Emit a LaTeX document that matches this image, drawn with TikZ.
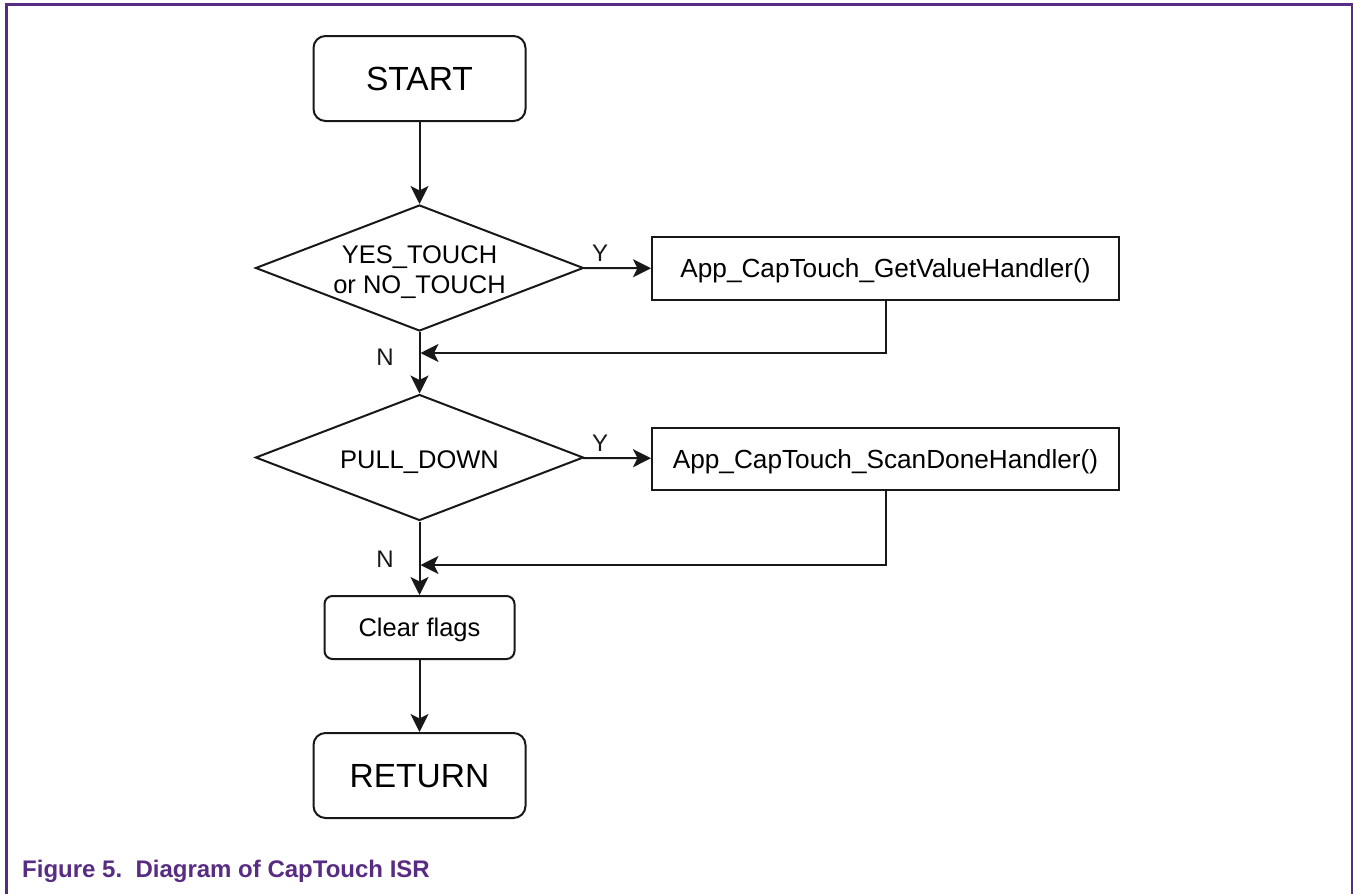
\documentclass[tikz,border=0pt]{standalone}
\usepackage{fontspec}
\setmainfont{Liberation Sans}
\usetikzlibrary{shapes.geometric,arrows.meta}
\definecolor{figpurple}{RGB}{88,44,131}
\definecolor{ink}{RGB}{24,24,24}

\tikzset{
  outline/.style={draw=ink, line width=2pt, inner sep=0pt, fill=white, text depth=0pt},
  terminal/.style={outline, rounded corners=12pt, minimum width=212pt, minimum height=85pt,
                   font=\fontsize{33.5}{38}\selectfont},
  smallterminal/.style={outline, rounded corners=8pt, minimum width=190pt, minimum height=63pt,
                   font=\fontsize{25.5}{30}\selectfont},
  process/.style={outline, minimum width=467pt, minimum height=63pt,
                  font=\fontsize{26.2}{30}\selectfont},
  decision/.style={outline, diamond, aspect=2.6, minimum width=328pt, minimum height=126pt,
                   align=center, text height=21pt, font=\fontsize{25.5}{30}\selectfont},
  flow/.style={draw=ink, line width=2pt,
               -{Stealth[length=18pt,width=18pt,inset=4.5pt]}},
  branch/.style={inner sep=0pt, text=ink, font=\fontsize{24}{28}\selectfont},
  frame/.style={draw=figpurple}
}

\begin{document}
\begin{tikzpicture}[x=1pt,y=-1pt]
  \useasboundingbox (0,0) rectangle (1353,894);

  % page frame (open at the bottom)
  \draw[frame, line width=3pt] (4.5,4.8) -- (1353,4.8);
  \draw[frame, line width=3pt] (6,3.3) -- (6,894);
  \draw[frame, line width=1.6pt] (1351.8,3.3) -- (1351.8,894);

  % flowchart nodes
  \node[terminal] (start) at (419.5,78.5) {START};
  \node[decision, text height=51pt] (d1) at (419.5,268) {YES\_TOUCH\\or NO\_TOUCH};
  \node[process] (p1) at (885.5,268.5) {App\_CapTouch\_GetValueHandler()};
  \node[decision] (d2) at (419.5,457.5) {PULL\_DOWN};
  \node[process, minimum height=62pt] (p2) at (885.5,459) {App\_CapTouch\_ScanDoneHandler()};
  \node[smallterminal] (clr) at (419.5,627.5) {Clear flags};
  \node[terminal] (ret) at (419.5,775.5) {RETURN};

  % merge points on the main line
  \coordinate (m1) at (420.5,353);
  \coordinate (m2) at (420.5,565);

  % connectors
  \draw[flow] (start) -- (d1);
  \draw[flow] (d1) -- (p1);
  \draw[flow] (d1) -- (d2);
  \draw[flow] (p1.south) |- (m1);
  \draw[flow] (d2) -- (p2);
  \draw[flow] (d2) -- (clr);
  \draw[flow] (p2.south) |- (m2);
  \draw[flow] (clr) -- (ret);

  % branch labels
  \node[branch] (y1) at (600,253) {Y};
  \node[branch] (n1) at (385,357) {N};
  \node[branch] (y2) at (600,443) {Y};
  \node[branch] (n2) at (385,559) {N};

  % caption
  \node[anchor=base west, inner sep=0pt, text=figpurple,
        font=\bfseries\fontsize{24}{28}\selectfont] (caption) at (22,877)
        {Figure 5.\ \ Diagram of CapTouch ISR};
\end{tikzpicture}
\end{document}
